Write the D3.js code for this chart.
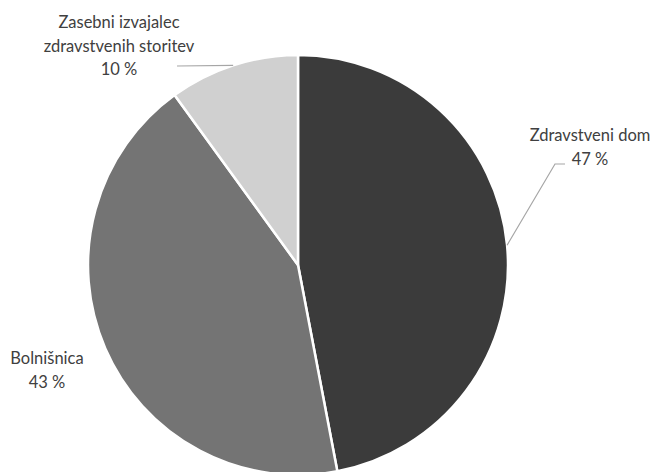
<!DOCTYPE html>
<html>
<head>
<meta charset="utf-8">
<script src="https://cdn.jsdelivr.net/npm/d3@7"></script>
<style>
  body { margin: 0; background: #fff; }
  .lbl { font-family: Lato, "Open Sans", sans-serif; font-size: 16.5px; fill: #404040; }
</style>
</head>
<body>
<script>
// data
var categories = ["Zdravstveni dom", "Bolnišnica", "Zasebni izvajalec zdravstvenih storitev"];
var values = [47, 43, 10];
var labelLines = [["Zdravstveni dom"], ["Bolnišnica"], ["Zasebni izvajalec", "zdravstvenih storitev"]];
var colors = ["#3b3b3b", "#747474", "#d0d0d0"];

window.onload = function(){
  var w = 658, h = 472;
  var cx = 298, cy = 265, r = 210;

  var svg = d3.select("body").append("svg")
    .attr("width", w)
    .attr("height", h);

  var g = svg.append("g").attr("transform", "translate(" + cx + "," + cy + ")");

  var data = categories.map(function(c, i){ return {name: c, value: values[i], lines: labelLines[i]}; });

  var pie = d3.pie().sort(null).value(function(d){ return d.value; });
  var arc = d3.arc().innerRadius(0).outerRadius(r);
  var arcs = pie(data);

  g.selectAll(".slice")
    .data(arcs)
    .enter()
    .append("path")
    .attr("class", "slice")
    .attr("d", arc)
    .style("fill", function(d, i){ return colors[i]; })
    .style("stroke", "#fff")
    .style("stroke-width", 2.5)
    .style("stroke-linejoin", "round");

  // label placement (excel "best fit" positions), relative to svg
  var labelPos = [
    {x: 590, y: 141, leader: [[555, 164], [565, 164]]},
    {x: 47, y: 364, leader: null},
    {x: 119, y: 28, leader: [[177, 66]]}
  ];

  function edgePoint(d){
    var a = (d.startAngle + d.endAngle) / 2;
    return [cx + r * Math.sin(a), cy - r * Math.cos(a)];
  }

  var line = d3.line();

  arcs.forEach(function(d, i){
    var p = labelPos[i];
    if (p.leader) {
      var pts = [edgePoint(d)].concat(p.leader);
      svg.append("path")
        .attr("d", line(pts))
        .style("fill", "none")
        .style("stroke", "#a6a6a6")
        .style("stroke-width", 1.2);
    }
    var t = svg.append("text")
      .attr("class", "lbl")
      .attr("text-anchor", "middle")
      .attr("y", p.y);
    var lines = d.data.lines.concat([d.data.value + " %"]);
    lines.forEach(function(s, k){
      t.append("tspan")
        .attr("x", p.x)
        .attr("dy", k === 0 ? 0 : 23.5)
        .text(s);
    });
  });
};
</script>
</body>
</html>
